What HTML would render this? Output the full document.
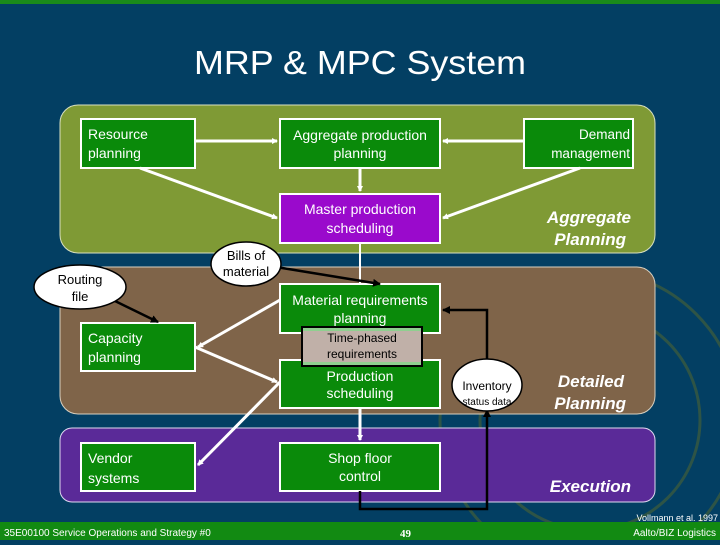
<!DOCTYPE html>
<html><head><style>
body{margin:0;width:720px;height:540px;overflow:hidden;background:#033f63;font-family:"Liberation Sans",sans-serif}
</style></head><body>
<svg width="720" height="540" xmlns="http://www.w3.org/2000/svg" font-family="Liberation Sans, sans-serif">
<defs>
<marker id="w" markerWidth="6" markerHeight="6" refX="5" refY="3" orient="auto" markerUnits="userSpaceOnUse"><path d="M0,0L6,3L0,6z" fill="#fff"/></marker>
<marker id="b" markerWidth="8" markerHeight="8" refX="7" refY="4" orient="auto" markerUnits="userSpaceOnUse"><path d="M0,0L8,4L0,8z" fill="#000"/></marker>
</defs>
<rect x="0" y="0" width="720" height="540" fill="#033f63"/>
<rect x="0" y="0" width="720" height="4" fill="#1a8a1a"/>
<g fill="none" stroke="#5a6a2a" stroke-width="3" opacity="0.5">
<circle cx="590" cy="420" r="150"/><circle cx="590" cy="420" r="110"/>
</g>
<text x="360" y="74" fill="#fff" font-size="33" text-anchor="middle" textLength="332" lengthAdjust="spacingAndGlyphs">MRP &amp; MPC System</text>
<rect x="60" y="105" width="595" height="148" rx="18" fill="#7f9a35" stroke="#d8e0c0" stroke-width="1"/>
<rect x="60" y="267" width="595" height="147" rx="18" fill="#7f6449" stroke="#d8d0c0" stroke-width="1"/>
<rect x="60" y="428" width="595" height="74" rx="12" fill="#5a2a98" stroke="#e0d8f0" stroke-width="1"/>
<g stroke="#fff" stroke-width="2" fill="#0a8a0a">
<rect x="81" y="119" width="114" height="49"/>
<rect x="280" y="119" width="160" height="49"/>
<rect x="524" y="119" width="109" height="49"/>
<rect x="280" y="194" width="160" height="49" fill="#9a0acc"/>
<rect x="280" y="284" width="160" height="49"/>
<rect x="81" y="323" width="114" height="48"/>
<rect x="280" y="360" width="160" height="48"/>
<rect x="81" y="443" width="114" height="48"/>
<rect x="280" y="443" width="160" height="48"/>
</g>
<rect x="302" y="327" width="120" height="39" fill="#c0b0a8" stroke="#000" stroke-width="2"/>
<rect x="303" y="328" width="118" height="3" fill="#8fcf8f"/>
<rect x="303" y="362" width="118" height="3" fill="#8fcf8f"/>
<g stroke="#fff" stroke-width="3" fill="none" marker-end="url(#w)">
<line x1="195" y1="141" x2="277" y2="141"/>
<line x1="524" y1="141" x2="443" y2="141"/>
<line x1="360" y1="168" x2="360" y2="191"/>
<line x1="140" y1="168" x2="277" y2="218"/>
<line x1="580" y1="168" x2="443" y2="218"/>
<line x1="280" y1="300" x2="198" y2="347"/>
<line x1="195" y1="347" x2="277" y2="382"/>
<line x1="280" y1="382" x2="198" y2="465"/>
<line x1="360" y1="408" x2="360" y2="440"/>
</g>
<line x1="360" y1="243" x2="360" y2="284" stroke="#fff" stroke-width="2"/>
<g stroke="#000" stroke-width="2.5" fill="none" marker-end="url(#b)">
<line x1="270" y1="266" x2="380" y2="284"/>
<line x1="115" y1="301" x2="158" y2="322"/>
<polyline points="360,491 360,509 487,509 487,410"/>
<polyline points="487,360 487,310 443,310"/>
</g>
<g fill="#fff" stroke="#000" stroke-width="1.5">
<ellipse cx="80" cy="287" rx="46" ry="22"/>
<ellipse cx="246" cy="264" rx="35" ry="22"/>
<ellipse cx="487" cy="385" rx="35" ry="26"/>
</g>
<g fill="#000" font-size="13" text-anchor="middle">
<text x="80" y="284">Routing</text><text x="80" y="301">file</text>
<text x="246" y="260">Bills of</text><text x="246" y="276">material</text>
<text x="487" y="390" font-size="12">Inventory</text><text x="487" y="405" font-size="10">status data</text>
<text x="362" y="342" font-size="12">Time-phased</text><text x="362" y="358" font-size="12">requirements</text>
</g>
<g fill="#fff" font-size="14">
<text x="88" y="139">Resource</text><text x="88" y="158">planning</text>
<text x="88" y="343">Capacity</text><text x="88" y="362">planning</text>
<text x="88" y="463">Vendor</text><text x="88" y="483">systems</text>
<g text-anchor="end" font-size="13.5"><text x="630" y="139">Demand</text><text x="630" y="158">management</text></g>
<g text-anchor="middle">
<text x="360" y="140">Aggregate production</text><text x="360" y="158">planning</text>
<text x="360" y="214">Master production</text><text x="360" y="233">scheduling</text>
<text x="360" y="305">Material requirements</text><text x="360" y="323">planning</text>
<text x="360" y="381">Production</text><text x="360" y="398">scheduling</text>
<text x="360" y="463">Shop floor</text><text x="360" y="481">control</text>
</g>
</g>
<g fill="#fff" font-size="17" font-weight="bold" font-style="italic" text-anchor="end">
<text x="631" y="223">Aggregate</text><text x="626" y="245">Planning</text>
<text x="624" y="387">Detailed</text><text x="626" y="409">Planning</text>
<text x="631" y="492">Execution</text>
</g>
<text x="718" y="521" fill="#fff" font-size="9" text-anchor="end">Vollmann et al. 1997</text>
<rect x="0" y="522" width="720" height="18" fill="#128a12"/>
<text x="4" y="536" fill="#fff" font-size="10">35E00100 Service Operations and Strategy #0</text>
<text x="400" y="537" fill="#fff" font-size="11" font-family="Liberation Serif, serif" font-weight="bold">49</text>
<text x="716" y="536" fill="#fff" font-size="10" text-anchor="end">Aalto/BIZ Logistics</text>
</svg>
</body></html>
